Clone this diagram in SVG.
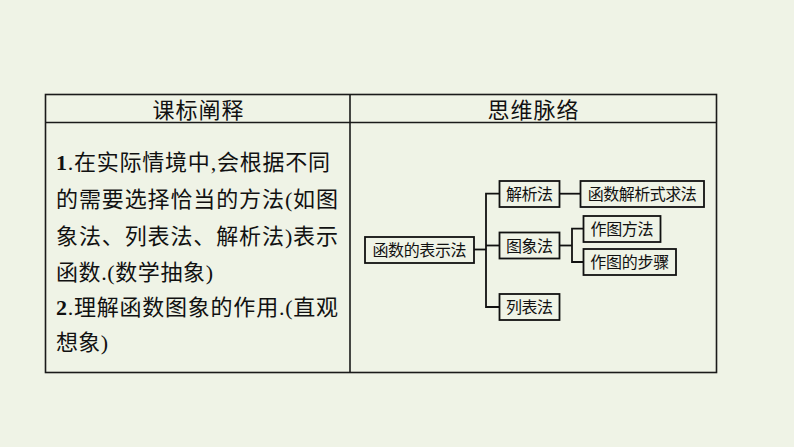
<svg xmlns="http://www.w3.org/2000/svg" width="794" height="447" viewBox="0 0 794 447">
<style>
.bg{fill:#eff3e6}
.tbl{fill:none;stroke:#1a1a1a;stroke-width:1.6}
.hd{font-family:"Liberation Sans","Noto Sans CJK SC",sans-serif;font-size:22px;fill:#111;text-anchor:middle}
.bd{font-family:"Liberation Serif","Noto Sans CJK SC",serif;font-size:22px;fill:#111}
.num{font-weight:bold}
.box{fill:#eff3e6;stroke:#111;stroke-width:1.8}
.lbl{font-family:"Noto Sans CJK SC",sans-serif;font-size:16px;fill:#111;text-anchor:middle}
.cn{fill:none;stroke:#111;stroke-width:1.8}
</style>
<rect class="bg" x="0" y="0" width="794" height="447"/>
<g id="table">
<rect class="tbl" x="45.5" y="94.5" width="671" height="278"/>
<line class="tbl" x1="45.5" y1="122.5" x2="716.5" y2="122.5"/>
<line class="tbl" x1="350" y1="94.5" x2="350" y2="372.5"/>
<text class="hd" x="198" y="117.5" textLength="91">课标阐释</text>
<text class="hd" x="533" y="117.5" textLength="91">思维脉络</text>
</g>
<g id="standards">
<text class="bd" x="56" y="170" textLength="274"><tspan class="num">1</tspan>.在实际情境中,会根据不同</text>
<text class="bd" x="56" y="207" textLength="282">的需要选择恰当的方法(如图</text>
<text class="bd" x="56" y="244" textLength="282">象法、列表法、解析法)表示</text>
<text class="bd" x="56" y="280" textLength="157">函数.(数学抽象)</text>
<text class="bd" x="56" y="315" textLength="282"><tspan class="num">2</tspan>.理解函数图象的作用.(直观</text>
<text class="bd" x="56" y="350" textLength="52">想象)</text>
</g>
<g id="connectors">
<line class="cn" x1="474" y1="249.5" x2="486" y2="249.5"/>
<polyline class="cn" points="499.5,193.7 486,193.7 486,307 499.5,307"/>
<line class="cn" x1="486" y1="245.5" x2="499.5" y2="245.5"/>
<line class="cn" x1="559.5" y1="193.7" x2="580.5" y2="193.7"/>
<line class="cn" x1="559.5" y1="245.5" x2="572" y2="245.5"/>
<polyline class="cn" points="583.5,228.7 572,228.7 572,262 583.5,262"/>
</g>
<g id="root">
<rect class="box" x="365" y="237" width="109" height="26"/>
<text class="lbl" x="419.5" y="256" textLength="94">函数的表示法</text>
</g>
<g id="jiexi">
<rect class="box" x="499.5" y="181" width="60" height="26"/>
<text class="lbl" x="529.5" y="200" textLength="47">解析法</text>
</g>
<g id="jiexishi">
<rect class="box" x="580.5" y="181" width="123.5" height="26"/>
<text class="lbl" x="642.2" y="200" textLength="109">函数解析式求法</text>
</g>
<g id="tuxiang">
<rect class="box" x="499.5" y="232.5" width="60" height="26"/>
<text class="lbl" x="529.5" y="251.5" textLength="47">图象法</text>
</g>
<g id="zuotufangfa">
<rect class="box" x="583.5" y="216" width="77" height="26"/>
<text class="lbl" x="622" y="235" textLength="63">作图方法</text>
</g>
<g id="zuotubuzhou">
<rect class="box" x="583.5" y="249" width="92.5" height="26"/>
<text class="lbl" x="629.7" y="268" textLength="79">作图的步骤</text>
</g>
<g id="liebiao">
<rect class="box" x="499.5" y="294" width="60" height="26"/>
<text class="lbl" x="529.5" y="313" textLength="47">列表法</text>
</g>
</svg>
